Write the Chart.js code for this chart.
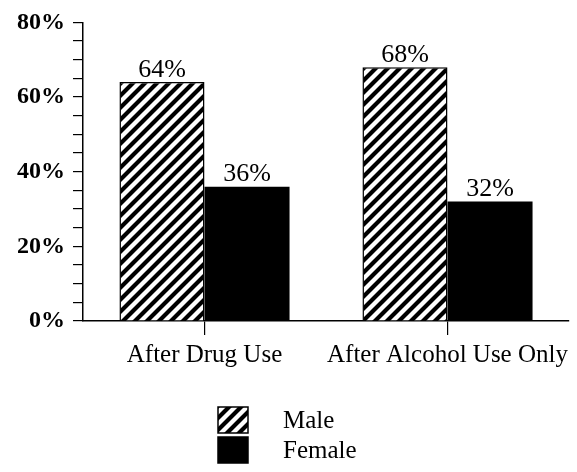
<!DOCTYPE html>
<html>
<head>
<meta charset="utf-8">
<script src="https://cdn.jsdelivr.net/npm/chart.js@4"></script>
<style>
  html, body { margin: 0; padding: 0; background: #fff; }
  #wrap { width: 577px; height: 472px; position: relative; }
</style>
</head>
<body>
<div id="wrap"><canvas id="cBar" width="577" height="472"></canvas></div>
<script>
/* grouped bar chart - male / female share */

var categories = ["After Drug Use", "After Alcohol Use Only"];
var seriesNames = ["Male", "Female"];
var maleValues = [64, 68];
var femaleValues = [36, 32];
var yTicks = [0, 20, 40, 60, 80];

var SERIF = "'Liberation Serif', 'Times New Roman', serif";

function makeHatch() {
  var s = 12;
  var cv = document.createElement("canvas");
  cv.width = s; cv.height = s;
  var c = cv.getContext("2d");
  c.fillStyle = "#fff";
  c.fillRect(0, 0, s, s);
  c.strokeStyle = "#000";
  c.lineWidth = 4.2;
  c.beginPath();
  c.moveTo(0, s); c.lineTo(s, 0);
  c.moveTo(-3, 3); c.lineTo(3, -3);
  c.moveTo(s - 3, s + 3); c.lineTo(s + 3, s - 3);
  c.stroke();
  return c.createPattern(cv, "repeat");
}

var ctx = document.getElementById("cBar");
var hatch = makeHatch();

// value labels above bars
var valueLabels = {
  id: "vl",
  afterDatasetsDraw: function(ch) {
    var c = ch.ctx;
    c.save();
    c.fillStyle = "#000";
    c.font = "26px " + SERIF;
    c.textAlign = "center";
    c.textBaseline = "bottom";
    ch.data.datasets.forEach(function(ds, i) {
      ch.getDatasetMeta(i).data.forEach(function(bar, j) {
        c.fillText(ds.data[j] + "%", bar.x, bar.y + 1);
      });
    });
    c.restore();
  }
};

// stacked legend under the axis
var stackLegend = {
  id: "sl",
  afterDraw: function(ch) {
    var c = ch.ctx;
    c.save();
    c.font = "25px " + SERIF;
    c.textBaseline = "middle";
    c.textAlign = "left";
    ch.data.datasets.forEach(function(ds, i) {
      var x = 218, y = 407 + i * 30, w = 30, h = 26;
      c.fillStyle = ds.backgroundColor;
      c.fillRect(x, y, w, h);
      c.strokeStyle = "#000";
      c.lineWidth = 1.5;
      c.strokeRect(x, y, w, h);
      c.fillStyle = "#000";
      c.fillText(ds.label, 283, y + h / 2 + 1);
    });
    c.restore();
  }
};

new Chart(ctx, {
  type: "bar",
  data: {
    labels: categories,
    datasets: [{
      label: seriesNames[0],
      data: maleValues,
      backgroundColor: hatch,
      borderColor: "#000",
      borderWidth: 1.5,
      categoryPercentage: 0.70,
      barPercentage: 1.0
    }, {
      label: seriesNames[1],
      data: femaleValues,
      backgroundColor: "#000",
      borderColor: "#000",
      borderWidth: 0,
      categoryPercentage: 0.70,
      barPercentage: 1.0
    }]
  },
  options: {
    responsive: false,
    animation: false,
    layout: { padding: { left: 9, right: 8, top: 13, bottom: 97 } },
    scales: {
      x: {
        offset: true,
        grid: { offset: false, drawOnChartArea: false, tickLength: 14, color: "#000", lineWidth: 1.2 },
        border: { color: "#000", width: 1.5 },
        ticks: { color: "#000", font: { family: SERIF, size: 25 }, padding: 5, maxRotation: 0, autoSkip: false }
      },
      y: {
        min: 0,
        max: 80,
        grid: { drawOnChartArea: false, tickLength: 10, color: "#000", lineWidth: 1.2 },
        border: { color: "#000", width: 1.5 },
        ticks: {
          stepSize: 5,
          color: "#000",
          padding: 8,
          font: { family: SERIF, size: 24, weight: "bold" },
          autoSkip: false,
          callback: function(v) { return yTicks.indexOf(v) >= 0 ? v + "%" : ""; }
        }
      }
    },
    plugins: {
      legend: { display: false },
      tooltip: { enabled: false }
    }
  },
  plugins: [valueLabels, stackLegend]
});
</script>
</body>
</html>
